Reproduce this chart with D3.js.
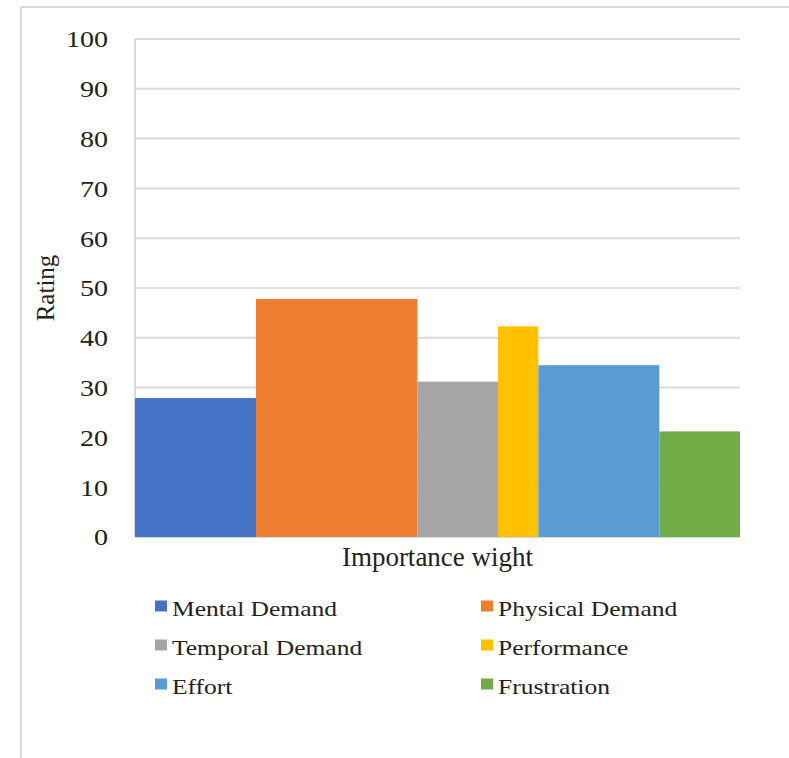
<!DOCTYPE html>
<html>
<head>
<meta charset="utf-8">
<script src="https://cdn.jsdelivr.net/npm/d3@7"></script>
<style>
  html, body { margin: 0; padding: 0; background: #fff; }
  svg { display: block; }
  text { font-family: "Liberation Serif", "Times New Roman", serif; fill: #222; }
</style>
</head>
<body>
<svg id="chart" width="789" height="758"></svg>
<script>
// NASA-TLX dimensions: mean rating and pairwise-comparison weight (bar width)
const categories = ["Mental Demand", "Physical Demand", "Temporal Demand", "Performance", "Effort", "Frustration"];
const ratings = [27.9, 47.8, 31.2, 42.3, 34.5, 21.2];
const weights = [3, 4, 2, 1, 3, 2];
const colors = ["#4472C4", "#ED7D31", "#A5A5A5", "#FFC000", "#5B9BD5", "#70AD47"];
const yTicks = [0, 10, 20, 30, 40, 50, 60, 70, 80, 90, 100];
const yTitle = "Rating";
const xTitle = "Importance wight";

const svg = d3.select("#chart");
const grid = "#D9D9D9";

// outer frame (top and left edges)
svg.append("line").attr("x1", 21).attr("x2", 789).attr("y1", 7).attr("y2", 7)
  .attr("stroke", grid).attr("stroke-width", 2);
svg.append("line").attr("x1", 21).attr("x2", 21).attr("y1", 7).attr("y2", 758)
  .attr("stroke", grid).attr("stroke-width", 2);

const plot = { left: 135, right: 740, top: 39, bottom: 537 };

// x is cumulative weight, so each bar's width is its weight
const ends = Array.from(d3.cumsum(weights));
const starts = ends.map((e, i) => e - weights[i]);
const x = d3.scaleLinear().domain([0, d3.sum(weights)]).range([plot.left, plot.right]);
const y = d3.scaleLinear().domain([0, 100]).range([plot.bottom, plot.top]);

// gridlines
svg.append("g").selectAll("line").data(yTicks).join("line")
  .attr("x1", plot.left).attr("x2", plot.right)
  .attr("y1", d => y(d)).attr("y2", d => y(d))
  .attr("stroke", grid).attr("stroke-width", 2);

// value axis line
svg.append("line").attr("x1", plot.left).attr("x2", plot.left)
  .attr("y1", y(100)).attr("y2", y(0)).attr("stroke", grid).attr("stroke-width", 2);

// bars
svg.append("g").selectAll("rect").data(categories).join("rect")
  .attr("x", (d, i) => x(starts[i]))
  .attr("width", (d, i) => x(ends[i]) - x(starts[i]))
  .attr("y", (d, i) => y(ratings[i]))
  .attr("height", (d, i) => y(0) - y(ratings[i]))
  .attr("fill", (d, i) => colors[i]);

// tick labels (slightly widened serif glyphs)
const tl = svg.append("g").selectAll("g").data(yTicks).join("g")
  .attr("transform", d => `translate(108,${y(d)}) scale(1.17,1)`);
tl.append("text").attr("text-anchor", "end").attr("dy", "0.35em")
  .attr("font-size", 24).text(d => d);

// axis titles
svg.append("text").attr("transform", `translate(54,${(plot.top + plot.bottom) / 2}) rotate(-90)`)
  .attr("text-anchor", "middle").attr("font-size", 25).text(yTitle);
svg.append("text").attr("x", (plot.left + plot.right) / 2).attr("y", 566)
  .attr("text-anchor", "middle").attr("font-size", 27).text(xTitle);

// legend: two columns, three rows
const legend = svg.append("g").selectAll("g").data(categories).join("g")
  .attr("transform", (d, i) => `translate(${i % 2 === 0 ? 155 : 481},${606 + Math.floor(i / 2) * 39})`);
legend.append("rect").attr("x", 0).attr("y", -5.5).attr("width", 12).attr("height", 11)
  .attr("fill", (d, i) => colors[i]);
legend.append("g").attr("transform", "translate(17,0) scale(1.16,1)")
  .append("text").attr("y", 10).attr("font-size", 22).text(d => d);
</script>
</body>
</html>
